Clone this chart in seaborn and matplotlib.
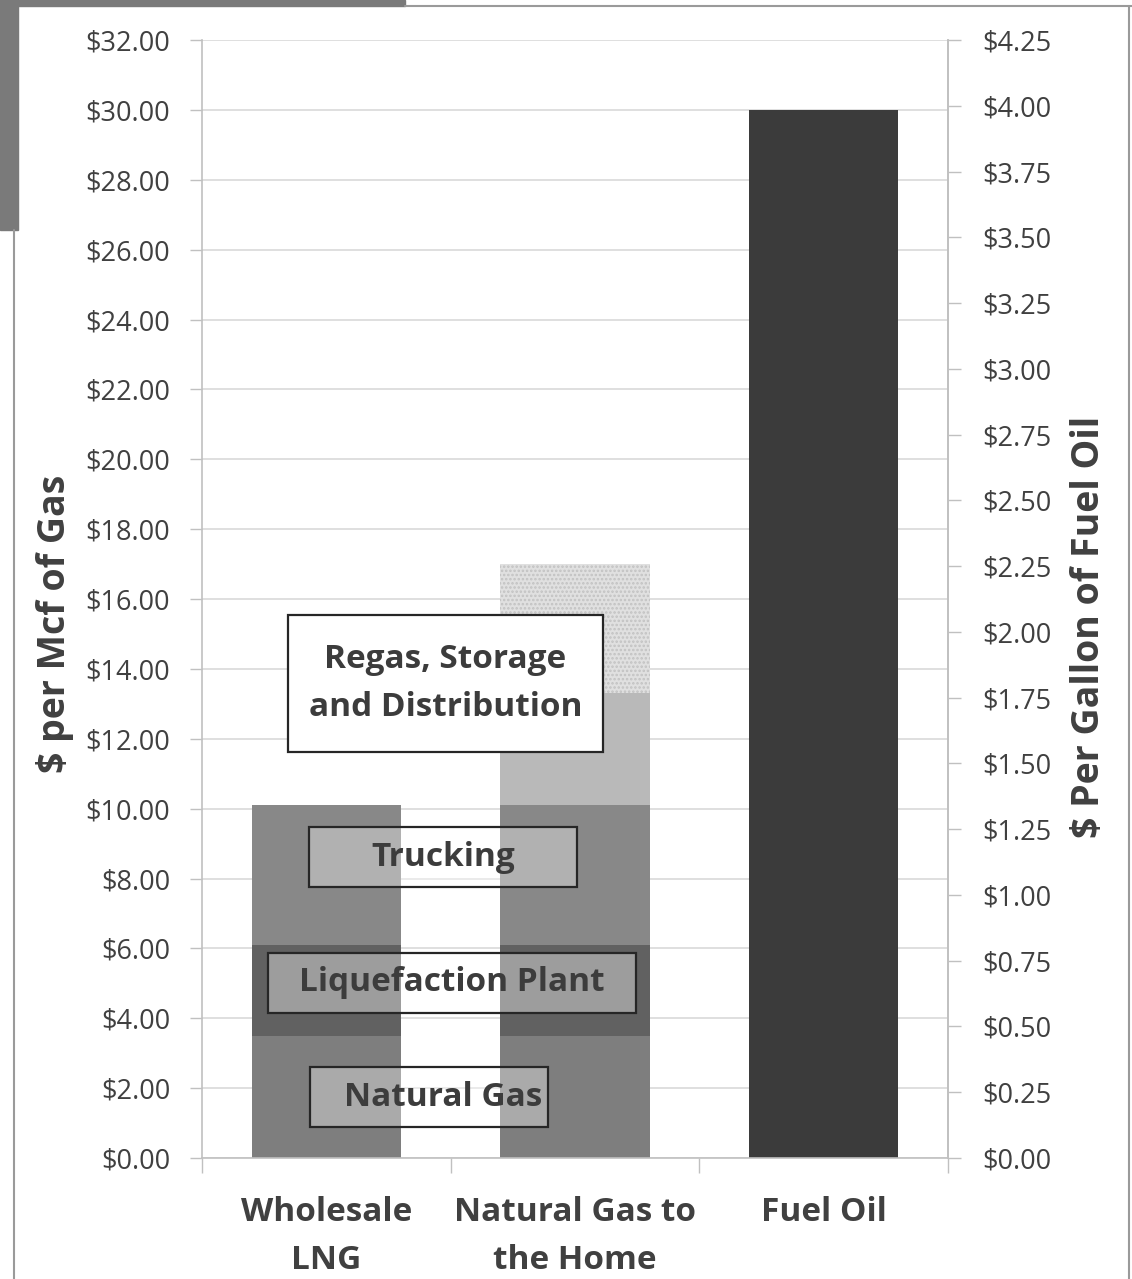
import numpy as np
import matplotlib
matplotlib.use("Agg")
import matplotlib.pyplot as plt
from matplotlib.patches import Rectangle
from matplotlib.lines import Line2D
import seaborn as sns

# ---- data ($ per Mcf, stacked cost components) ----
categories = ["Wholesale\nLNG", "Natural Gas to\nthe Home", "Fuel Oil"]
natural_gas = [3.5, 3.5, 0.0]
liquefaction = [2.6, 2.6, 0.0]
trucking = [4.0, 4.0, 0.0]
regas_storage = [0.0, 3.2, 0.0]
distribution = [0.0, 3.7, 0.0]
fuel_oil = [0.0, 0.0, 30.0]

left_ticks = list(range(0, 33, 2))
right_ticks = [0.0, 0.25, 0.5, 0.75, 1.0, 1.25, 1.5, 1.75, 2.0,
               2.25, 2.5, 2.75, 3.0, 3.25, 3.5, 3.75, 4.0, 4.25]

sns.set_theme(style="white")
plt.rcParams["font.family"] = ["Open Sans", "DejaVu Sans"]
plt.rcParams["hatch.linewidth"] = 1.2

fig = plt.figure(figsize=(11.32, 12.79), dpi=100)
ax = fig.add_axes([0.1784, 0.0946, 0.659, 0.874])

# stacked layers drawn as cumulative totals, tallest first
layers = [natural_gas, liquefaction, trucking, regas_storage, distribution]
colors = ["#7e7e7e", "#616161", "#888888", "#b9b9b9", "#e0e0e0"]
cum = np.cumsum(np.array(layers), axis=0)
bar_w = 0.6
for i in range(len(layers) - 1, -1, -1):
    kw = dict(linewidth=0)
    if i == 4:
        kw.update(hatch="....", edgecolor="#c2c2c2")
    sns.barplot(x=categories, y=cum[i], color=colors[i], saturation=1,
                width=bar_w, ax=ax, **kw)
sns.barplot(x=categories, y=fuel_oil, color="#3b3b3b", saturation=1,
            width=bar_w, ax=ax, linewidth=0)

ax.set_xlim(-0.5, 2.5)
ax.set_ylim(0, 32)
ax.set_yticks(left_ticks)
ax.set_yticklabels([f"${v:.2f}" for v in left_ticks])
ax.yaxis.grid(True, color="#d9d9d9", linewidth=1.2)
ax.set_axisbelow(True)

ax.spines["top"].set_visible(False)
for s in ["left", "bottom", "right"]:
    ax.spines[s].set_color("#c0c0c0")
    ax.spines[s].set_linewidth(1.2)

ax.tick_params(axis="y", which="major", left=True, length=9, width=1.0,
               color="#c0c0c0", pad=14, labelsize=19.5, labelcolor="#404040")
ax.set_xticks([0, 1, 2])
ax.set_xticklabels(categories, fontsize=24, fontweight="bold",
                   color="#404040", linespacing=1.6)
ax.tick_params(axis="x", which="major", length=0, pad=27)
ax.set_xticks([-0.5, 0.5, 1.5, 2.5], minor=True)
ax.tick_params(axis="x", which="minor", bottom=True, length=11, width=1.0,
               color="#c0c0c0")
ax.set_xlabel("")

ax.set_ylabel("$ per Mcf of Gas", fontsize=27, fontweight="bold",
              color="#404040")
ax.yaxis.set_label_coords(-0.172, 0.478)

# secondary axis: $ per gallon of fuel oil
ax2 = ax.twinx()
ax2.set_ylim(0, 4.25)
ax2.set_yticks(right_ticks)
ax2.set_yticklabels([f"${v:.2f}" for v in right_ticks])
ax2.tick_params(axis="y", right=True, length=9, width=1.0, color="#c0c0c0",
                pad=16, labelsize=19.5, labelcolor="#404040")
for s in ["top", "left", "bottom"]:
    ax2.spines[s].set_visible(False)
ax2.spines["right"].set_color("#c0c0c0")
ax2.spines["right"].set_linewidth(1.2)
ax2.grid(False)
ax2.set_ylabel("$ Per Gallon of Fuel Oil", fontsize=27, fontweight="bold",
               color="#404040", rotation=90)
ax2.yaxis.set_label_coords(1.164, 0.475)


def label_box(x0, x1, y0, y1, text, face, alpha, tx=None):
    ax.add_patch(Rectangle((x0, y0), x1 - x0, y1 - y0, facecolor=face,
                           alpha=alpha, edgecolor="none", zorder=5))
    ax.add_patch(Rectangle((x0, y0), x1 - x0, y1 - y0, facecolor="none",
                           edgecolor="#262626", linewidth=1.6, zorder=6))
    if tx is None:
        tx = (x0 + x1) / 2
    ax.text(tx, (y0 + y1) / 2, text, ha="center", va="center",
            fontsize=24, fontweight="bold", color="#3c3c3c",
            linespacing=1.6, zorder=7)


label_box(-0.154, 1.112, 11.62, 15.54, "Regas, Storage\nand Distribution",
          "white", 1.0)
label_box(-0.070, 1.008, 7.76, 9.47, "Trucking", "white", 0.35)
label_box(-0.235, 1.245, 4.15, 5.87, "Liquefaction Plant", "white", 0.38)
label_box(-0.066, 0.891, 0.89, 2.60, "Natural Gas", "white", 0.35, tx=0.47)

# page frame around the chart
W, H = 1132.0, 1279.0
fig.add_artist(Rectangle((0, 1 - 230 / H), 18 / W, 230 / H,
                         transform=fig.transFigure, color="#7a7a7a"))
fig.add_artist(Rectangle((0, 1 - 6 / H), 405 / W, 6 / H,
                         transform=fig.transFigure, color="#7a7a7a"))
fig.add_artist(Line2D([405 / W, 1.0], [1 - 6 / H, 1 - 6 / H],
                      transform=fig.transFigure, color="#9a9a9a", lw=1.5))
fig.add_artist(Line2D([14 / W, 14 / W], [0, 1 - 230 / H],
                      transform=fig.transFigure, color="#9a9a9a", lw=1.5))
fig.add_artist(Line2D([1129 / W, 1129 / W], [0, 1 - 6 / H],
                      transform=fig.transFigure, color="#9a9a9a", lw=1.5))

fig.savefig("out.png", dpi=100)
